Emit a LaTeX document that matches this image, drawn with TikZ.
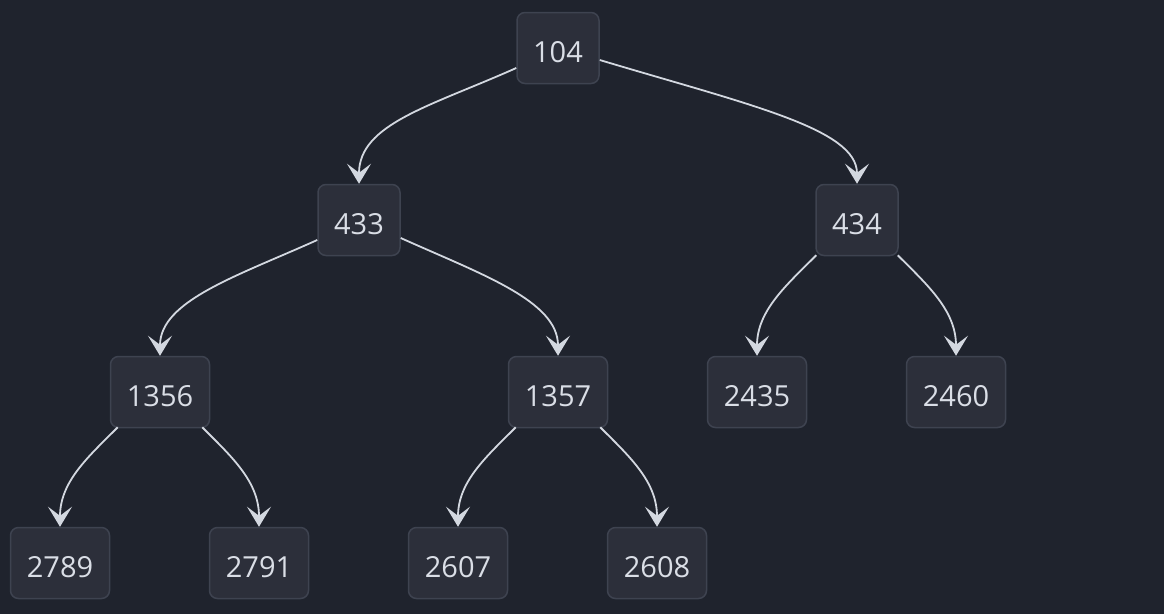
\documentclass[tikz,border=0pt]{standalone}
\usepackage{fontspec}
\setmainfont{Open Sans}
\usetikzlibrary{arrows.meta}
\definecolor{bgc}{HTML}{1F232D}
\definecolor{nfill}{HTML}{2C2F3A}
\definecolor{nline}{HTML}{3E4350}
\definecolor{ntext}{HTML}{DADEE6}
\definecolor{eline}{HTML}{D3D8E0}
\tikzset{
  tnode/.style={draw=nline, line width=1.5pt, fill=nfill, rounded corners=8pt,
    minimum height=71pt, inner sep=0pt, text=ntext, text height=28pt, text depth=0pt,
    font=\fontsize{29}{31}\selectfont},
  nthree/.style={tnode, minimum width=82pt},
  nfour/.style={tnode, minimum width=99pt},
  edge/.style={draw=eline, line width=1.8pt,
    -{Stealth[length=20pt, width=24pt, inset=9pt]}}
}
\begin{document}
\begin{tikzpicture}[x=1pt, y=-1pt]
\fill[bgc] (0,0) rectangle (1164,614);
\useasboundingbox (0,0) rectangle (1164,614);
\node[nthree] (n104) at (558,48) {104};
\node[nthree] (n433) at (359,220) {433};
\node[nthree] (n434) at (857,220) {434};
\node[nfour] (n1356) at (160,392) {1356};
\node[nfour] (n1357) at (558,392) {1357};
\node[nfour] (n2435) at (757,392) {2435};
\node[nfour] (n2460) at (956,392) {2460};
\node[nfour] (n2789) at (60,563) {2789};
\node[nfour] (n2791) at (259,563) {2791};
\node[nfour] (n2607) at (458,563) {2607};
\node[nfour] (n2608) at (657,563) {2608};

\draw[edge] ([yshift=-20pt]n104.west) .. controls +(-85,38) and +(0,-60) .. (n433.north);
\draw[edge] ([yshift=-12pt]n104.east) .. controls +(150,45) and +(0,-55) .. (n434.north);
\draw[edge] ([yshift=-20pt]n433.west) .. controls +(-80,36) and +(0,-55) .. (n1356.north);
\draw[edge] ([yshift=-18pt]n433.east) .. controls +(80,36) and +(0,-55) .. (n1357.north);
\draw[edge] ([xshift=1pt,yshift=1pt]n434.south west) .. controls +(-30,30) and +(0,-45) .. (n2435.north);
\draw[edge] ([xshift=-1pt,yshift=1pt]n434.south east) .. controls +(30,30) and +(0,-45) .. (n2460.north);
\draw[edge] ([xshift=8pt,yshift=1pt]n1356.south west) .. controls +(-30,30) and +(0,-45) .. (n2789.north);
\draw[edge] ([xshift=-8pt,yshift=1pt]n1356.south east) .. controls +(30,30) and +(0,-45) .. (n2791.north);
\draw[edge] ([xshift=8pt,yshift=1pt]n1357.south west) .. controls +(-30,30) and +(0,-45) .. (n2607.north);
\draw[edge] ([xshift=-8pt,yshift=1pt]n1357.south east) .. controls +(30,30) and +(0,-45) .. (n2608.north);
\end{tikzpicture}
\end{document}
